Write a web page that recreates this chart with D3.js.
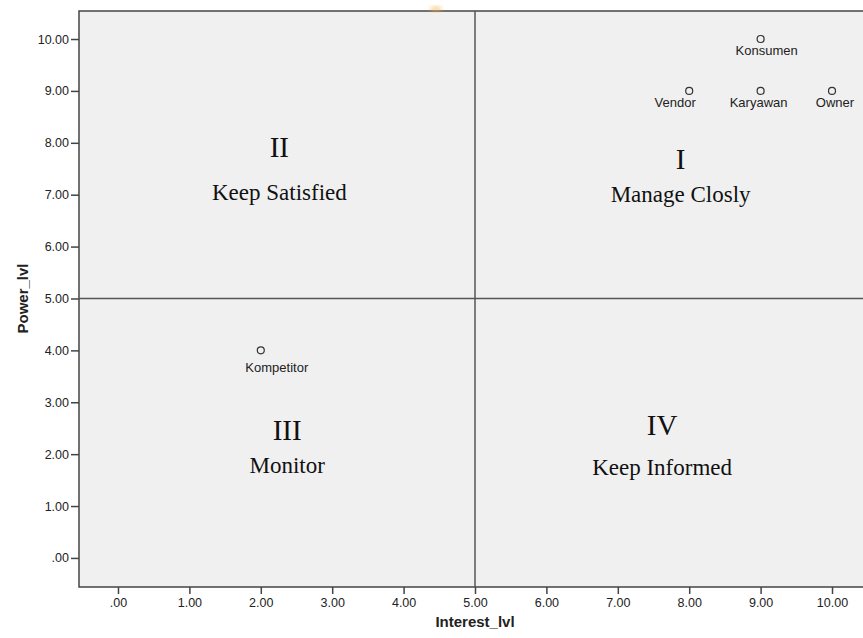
<!DOCTYPE html>
<html>
<head>
<meta charset="utf-8">
<script src="https://cdn.jsdelivr.net/npm/d3@7"></script>
<style>
  body { margin: 0; background: #fff; }
  text { font-family: "Liberation Sans", Arial, sans-serif; }
</style>
</head>
<body>
<div id="chart"></div>
<script>
// 数据
const names = ['Konsumen', 'Vendor', 'Karyawan', 'Owner', 'Kompetitor']
const interest = [9, 8, 9, 10, 2]
const power = [10, 9, 9, 9, 4]
const tickValues = [0, 1, 2, 3, 4, 5, 6, 7, 8, 9, 10]
const quadNum = ['II', 'I', 'III', 'IV']
const quadName = ['Keep Satisfied', 'Manage Closly', 'Monitor', 'Keep Informed']
const splitX = 5
const splitY = 5

const width = 863
const height = 638
const svgLeft = 79
const svgTop = 11
const plotW = 784
const plotH = 576

const svg = d3.select('#chart').append('svg').attr('width', width).attr('height', height)

// 比例尺
const x = d3.scaleLinear().domain([-0.546, 10.434]).range([svgLeft, svgLeft + plotW])
const y = d3.scaleLinear().domain([-0.56, 10.54]).range([svgTop + plotH, svgTop])

// 背景
svg.append('rect')
  .attr('x', svgLeft).attr('y', svgTop)
  .attr('width', plotW + 20).attr('height', plotH)
  .attr('fill', '#f0f0f0')
  .attr('stroke', '#444').attr('stroke-width', 1.5)

// 顶部的橙色小斑点
const defs = svg.append('defs')
defs.append('filter').attr('id', 'blur').append('feGaussianBlur').attr('stdDeviation', 2)
svg.append('ellipse').attr('cx', 436).attr('cy', 9).attr('rx', 6).attr('ry', 3)
  .attr('fill', '#f3b54a').attr('opacity', 0.55).attr('filter', 'url(#blur)')

// 坐标轴
const fmt = d => d === 0 ? '.00' : d3.format('.2f')(d)
const yAxis = d3.axisLeft(y).tickValues(tickValues).tickFormat(fmt).tickSize(8).tickPadding(2)
const gy = svg.append('g').attr('transform', 'translate(' + svgLeft + ',0)').call(yAxis)
const xAxis = d3.axisBottom(x).tickValues(tickValues).tickFormat(fmt).tickSize(7).tickPadding(4)
const gx = svg.append('g').attr('transform', 'translate(0,' + (svgTop + plotH) + ')').call(xAxis)
;[gx, gy].forEach(g => {
  g.select('.domain').remove()
  g.selectAll('.tick line').attr('stroke', '#444').attr('stroke-width', 1.5)
  g.selectAll('.tick text').attr('fill', '#222').style('font-size', '12.5px')
    .style('font-family', '"Liberation Sans", Arial, sans-serif')
})

// 轴标题
svg.append('text').text('Interest_lvl')
  .attr('x', x(splitX)).attr('y', 627)
  .attr('text-anchor', 'middle')
  .attr('style', 'font-size: 15px; font-weight: bold;').attr('fill', '#222')
svg.append('text').text('Power_lvl')
  .attr('transform', 'translate(28,' + y(splitY) + ') rotate(-90)')
  .attr('text-anchor', 'middle')
  .attr('style', 'font-size: 15px; font-weight: bold;').attr('fill', '#222')

// 参考线
svg.append('line')
  .attr('x1', x(splitX)).attr('x2', x(splitX)).attr('y1', svgTop).attr('y2', svgTop + plotH)
  .attr('stroke', '#555').attr('stroke-width', 1.5)
svg.append('line')
  .attr('x1', svgLeft).attr('x2', svgLeft + plotW).attr('y1', y(splitY)).attr('y2', y(splitY))
  .attr('stroke', '#555').attr('stroke-width', 1.5)

// 象限文字 (数据坐标)
const quadPos = [[2.26, 7.73, 6.9], [7.88, 7.5, 6.86], [2.37, 2.27, 1.64], [7.62, 2.37, 1.6]]
quadNum.forEach((t, i) => {
  const p = quadPos[i]
  svg.append('text').text(t)
    .attr('x', x(p[0])).attr('y', y(p[1]))
    .attr('text-anchor', 'middle').attr('fill', '#111')
    .attr('style', 'font-family: "Liberation Serif", "Times New Roman", serif; font-size: 29px;')
  svg.append('text').text(quadName[i])
    .attr('x', x(p[0])).attr('y', y(p[2]))
    .attr('text-anchor', 'middle').attr('fill', '#111')
    .attr('style', 'font-family: "Liberation Serif", "Times New Roman", serif; font-size: 23px;')
})

// 散点
const points = names.map((n, i) => ({ name: n, x: interest[i], y: power[i] }))
// 标签偏移 (像素)
const labelShift = { Konsumen: [6, 16], Vendor: [-14, 16], Karyawan: [-2, 16], Owner: [3, 16], Kompetitor: [16, 22] }
const pg = svg.append('g')
points.forEach(d => {
  pg.append('circle')
    .attr('cx', x(d.x)).attr('cy', y(d.y)).attr('r', 3.5)
    .attr('fill', 'none').attr('stroke', '#333').attr('stroke-width', 1.2)
  const s = labelShift[d.name]
  pg.append('text').text(d.name)
    .attr('x', x(d.x) + s[0]).attr('y', y(d.y) + s[1])
    .attr('text-anchor', 'middle').attr('fill', '#222')
    .attr('style', 'font-size: 13px;')
})
</script>
</body>
</html>
